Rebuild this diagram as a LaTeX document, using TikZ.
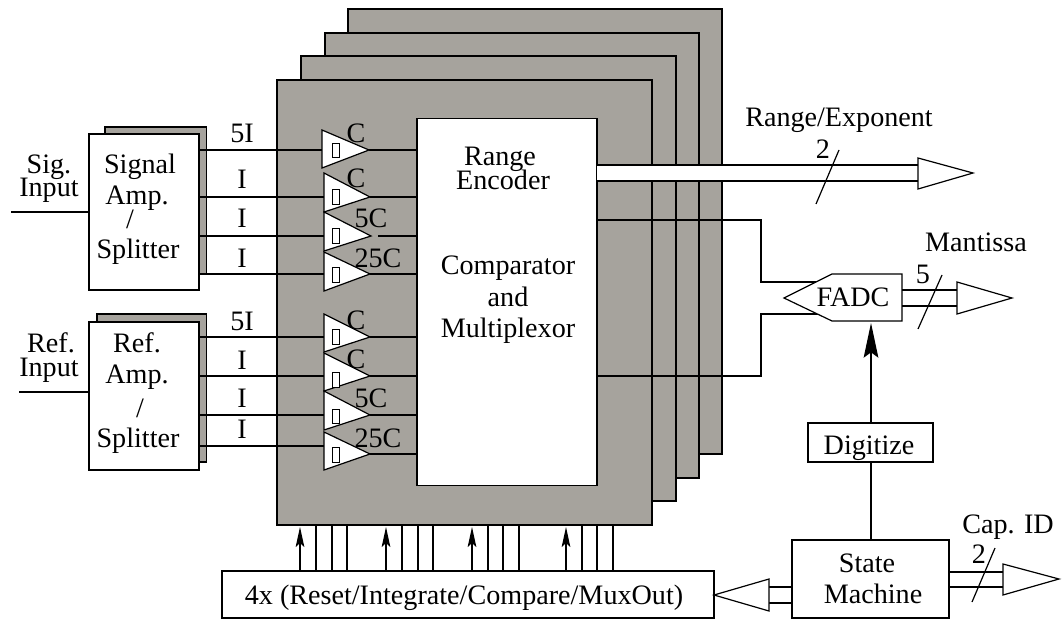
\documentclass[tikz,border=0pt]{standalone}
\usepackage{fontspec}
\setmainfont{Liberation Serif}
\usetikzlibrary{arrows.meta,calc}
\definecolor{stackgray}{RGB}{166,163,157}
\tikzset{
  x=0.75pt,y=-0.75pt,
  every node/.style={inner sep=0pt,outer sep=0pt},
  lbl/.style={anchor=base,font=\fontsize{21.1}{23}\selectfont,text=black},
  wire/.style={draw=black,line width=0.9pt},
  plate/.style={draw=black,fill=stackgray,line width=0.9pt},
  whitebox/.style={draw=black,fill=white,line width=0.9pt},
  boxnode/.style={draw=black,fill=white,line width=0.9pt,rectangle},
  smallr/.style={draw=black,fill=white,line width=0.7pt},
  barb/.style={-{Stealth[length=26pt,width=11pt,inset=4pt]}},
  barbs/.style={-{Stealth[length=15pt,width=6.5pt,inset=3pt]}},
}
\newcommand{\tri}[7]{% left x, top, bottom, tip x, tip y, rect top, rect bottom
  \draw[whitebox] (#1,#2) -- (#4,#5) -- (#1,#3) -- cycle;
  \draw[smallr] (332,#6) rectangle (339,#7);
}
\begin{document}
\begin{tikzpicture}
\useasboundingbox (0,0) rectangle (1062,628);
% stacked plates
\draw[plate] (348,9) rectangle (722,454);
\draw[plate] (325,33) rectangle (699,478);
\draw[plate] (301,56) rectangle (676,501);
\draw[plate] (277,80) rectangle (652,525);
\node[boxnode,minimum width=135pt,minimum height=275.25pt,anchor=north west] (enc) at (417,118.5) {};
% amps back plates
\draw[plate] (105,127) rectangle (206.5,274);
\draw[plate] (97,314) rectangle (206.5,462);
% input wires
\foreach \y in {150,197,236,274} \draw[wire] (199,\y) -- (324,\y);
\foreach \y in {337,376,415,446} \draw[wire] (199,\y) -- (324,\y);
\foreach \y/\a in {150/369,197/370,274/370,337/370,376/370,415/370,454/370} \draw[wire] (\a,\y) -- (417,\y);
\draw[wire] (378,236) -- (417,236);
% amps
\node[boxnode,minimum width=82.5pt,minimum height=117pt,anchor=north west] (amps) at (89,134) {};
\node[boxnode,minimum width=82.5pt,minimum height=111pt,anchor=north west] (ampr) at (89,322) {};
\coordinate (sigin) at (11,212);
\coordinate (refin) at (19,392);
\draw[wire] (sigin) -- (89,212);
\draw[wire] (refin) -- (89,392);
% triangles
\tri{322}{130}{168}{369}{150}{143}{157}
\tri{324}{173}{212}{370}{197}{189}{204}
\tri{324}{212}{251}{371}{236}{228}{243}
\tri{324}{252}{291}{370}{274}{267}{282}
\tri{324}{314}{352}{370}{337}{329}{344}
\tri{324}{353}{391}{370}{376}{372}{387}
\tri{324}{391}{430}{370}{415}{409}{423}
\tri{324}{432}{470}{370}{454}{447}{462}
% range bus
\fill[white] (597,165) rectangle (918,181);
\draw[wire] (597,165) -- (918,165);
\draw[wire] (597,181) -- (918,181);
\coordinate (rtip) at (973,173);
\draw[whitebox] (918,158) -- (rtip) -- (918,189) -- cycle;
\coordinate (rs1) at (816,204);
\coordinate (rs2) at (839,150);
\draw[wire] (rs1) -- (rs2);
% fadc
\draw[wire] (597,220) -- (761,220) -- (761,282) -- (820,282);
\draw[wire] (597,376) -- (761,376) -- (761,314) -- (820,314);
\draw[whitebox] (784,298) -- (832,274) -- (902,274) -- (902,321) -- (832,321) -- cycle;
\coordinate (fadc) at (871,321);
\draw[wire] (902,290) -- (957,290);
\draw[wire] (902,306) -- (957,306);
\draw[whitebox] (957,282) -- (1012,298) -- (957,314) -- cycle;
\coordinate (ms1) at (918,329);
\coordinate (ms2) at (942,275);
\draw[wire] (ms1) -- (ms2);
% digitize and state machine
\node[boxnode,minimum width=93.75pt,minimum height=29.25pt,anchor=north west] (dig) at (808,423) {};
\node[boxnode,minimum width=117.75pt,minimum height=58.5pt,anchor=north west] (sm) at (792,540) {};
\draw[wire,barb] (dig.north -| fadc) -- ($(fadc)+(0,2)$);
\draw[wire] (dig.south -| fadc) -- (sm.north -| fadc);
% cap bus
\draw[wire] (949,572) -- (1003,572);
\draw[wire] (949,587) -- (1003,587);
\draw[whitebox] (1003,564) -- (1059,579) -- (1003,595) -- cycle;
\coordinate (cs1) at (972,602);
\coordinate (cs2) at (995,548);
\draw[wire] (cs1) -- (cs2);
% left bus
\node[boxnode,minimum width=369pt,minimum height=35.25pt,anchor=north west] (ctl) at (222,571) {};
\draw[wire] (792,587) -- (769,587);
\draw[wire] (792,603) -- (769,603);
\draw[whitebox] (769,579) -- (714,595) -- (769,611) -- cycle;
% control lines
\foreach \x in {300,386,472,566} \draw[wire,barbs] (\x,571) -- (\x,527);
\foreach \x in {316,332,347,402,418,433,488,503,519,582,597,613} \draw[wire] (\x,571) -- (\x,525);
% labels
\node[lbl] (t1) at (242,142) {5I};
\node[lbl] (t2) at (242,188) {I};
\node[lbl] (t3) at (242,227) {I};
\node[lbl] (t4) at (242,267) {I};
\node[lbl] (t5) at (242,330) {5I};
\node[lbl] (t6) at (242,369) {I};
\node[lbl] (t7) at (242,407) {I};
\node[lbl] (t8) at (242,438) {I};
\node[lbl] (c1) at (356,142) {C};
\node[lbl] (c2) at (356,187) {C};
\node[lbl] (c3) at (371,227) {5C};
\node[lbl] (c4) at (378,267) {25C};
\node[lbl] (c5) at (356,329) {C};
\node[lbl] (c6) at (356,368) {C};
\node[lbl] (c7) at (371,407) {5C};
\node[lbl] (c8) at (378,447) {25C};
\node[lbl] (a1) at (49,173) {Sig.};
\node[lbl] (a2) at (49,196) {Input};
\node[lbl] (a3) at (51,352) {Ref.};
\node[lbl] (a4) at (49,376) {Input};
\node[lbl] (b1) at (140,173) {Signal};
\node[lbl] (b2) at (137,204) {Amp.};
\node[lbl] (b3) at (130,228) {/};
\node[lbl] (b4) at (138,258) {Splitter};
\node[lbl] (b5) at (137,352) {Ref.};
\node[lbl] (b6) at (137,383) {Amp.};
\node[lbl] (b7) at (140,417) {/};
\node[lbl] (b8) at (138,447) {Splitter};
\node[lbl] (e1) at (500,165) {Range};
\node[lbl] (e2) at (503,189) {Encoder};
\node[lbl] (e3) at (508,274) {Comparator};
\node[lbl] (e4) at (508,306) {and};
\node[lbl] (e5) at (508,337) {Multiplexor};
\node[lbl] (o1) at (839,126) {Range/Exponent};
\node[lbl] (o2) at (823,158) {2};
\node[lbl] (o3) at (976,251) {Mantissa};
\node[lbl] (o4) at (923,283) {5};
\node[lbl] (o5) at (853,306) {FADC};
\node[lbl] (o6) at (869,454) {Digitize};
\node[lbl] (o7) at (867,572) {State};
\node[lbl] (o8) at (873,603) {Machine};
\node[lbl] (o9) at (1008,533) {Cap. ID};
\node[lbl] (o10) at (979,563) {2};
\node[lbl] (o11) at (464,604) {4x (Reset/Integrate/Compare/MuxOut)};
\end{tikzpicture}
\end{document}
